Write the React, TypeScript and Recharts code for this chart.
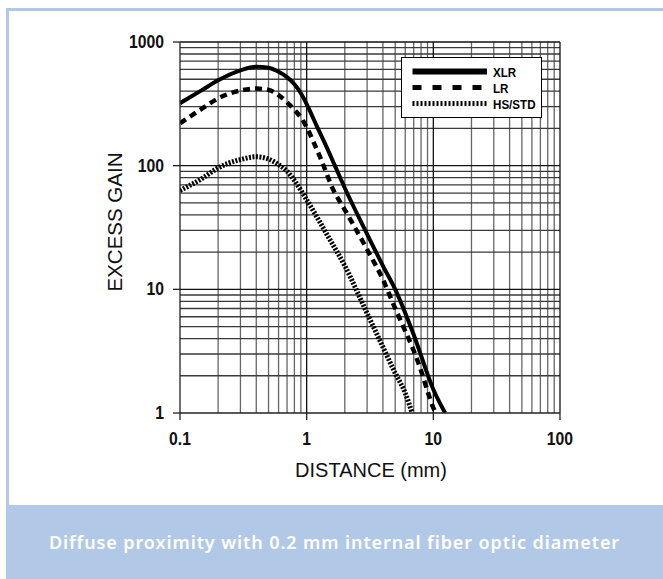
import React from 'react';
import { LineChart, Line, XAxis, YAxis, ReferenceLine, Legend, Label } from 'recharts';

const xTicks = [0.1, 1, 10, 100];
const yTicks = [1, 10, 100, 1000];
const xMinorGrid = [0.2, 0.3, 0.4, 0.5, 0.6, 0.7, 0.8, 0.9, 2, 3, 4, 5, 6, 7, 8, 9, 20, 30, 40, 50, 60, 70, 80, 90];
const xMajorGrid = [1, 10, 100];
const yMinorGrid = [2, 3, 4, 5, 6, 7, 8, 9, 20, 30, 40, 50, 60, 70, 80, 90, 200, 300, 400, 500, 600, 700, 800, 900];
const yMajorGrid = [10, 100, 1000];

const xlrDistance = [0.1, 0.15, 0.2, 0.3, 0.4, 0.5, 0.6, 0.7, 0.8, 0.9, 1, 1.2, 1.4, 1.67, 2, 3, 4, 5, 7, 10, 12.4];
const xlrGain = [320, 410, 490, 590, 630, 620, 575, 520, 455, 385, 315, 210, 150, 100, 66, 28, 15.5, 10, 4.3, 1.55, 1];

const lrDistance = [0.1, 0.15, 0.2, 0.3, 0.4, 0.5, 0.6, 0.7, 0.8, 0.9, 1, 1.15, 1.3, 1.62, 2, 3, 4, 5, 6, 7, 8, 9, 10, 10.5];
const lrGain = [220, 290, 350, 405, 420, 410, 372, 325, 283, 245, 205, 150, 112, 64, 44, 21, 12, 7, 4.6, 3.2, 2.2, 1.5, 1.1, 1];

const hsDistance = [0.1, 0.15, 0.2, 0.3, 0.4, 0.5, 0.6, 0.7, 0.8, 1, 1.5, 2, 3, 3.79, 5, 6, 6.8];
const hsGain = [63, 79, 96, 112, 118, 113, 102, 90, 76, 53, 26, 15.5, 6.4, 3.84, 2.1, 1.45, 1];

const seriesNames = ['XLR', 'LR', 'HS/STD'];

const toData = (xs: number[], ys: number[]) => xs.map((x, i) => ({ x, y: ys[i] }));
const xlrData = toData(xlrDistance, xlrGain);
const lrData = toData(lrDistance, lrGain);
const hsData = toData(hsDistance, hsGain);

const SANS = '"Liberation Sans", Arial, sans-serif';
const BLUE = '#b1c9e6';

const YTick = (props: any) => {
  const { x, y, payload } = props;
  return (
    <text transform={`translate(${x - 7} ${y + 6}) scale(0.9 1)`} textAnchor="end" fontFamily={SANS} fontWeight="bold" fontSize={17.5} fill="#111">
      {payload.value}
    </text>
  );
};

const XTick = (props: any) => {
  const { x, y, payload } = props;
  return (
    <text transform={`translate(${x} ${y + 23}) scale(0.9 1)`} textAnchor="middle" fontFamily={SANS} fontWeight="bold" fontSize={17.5} fill="#111">
      {payload.value}
    </text>
  );
};

const LegendBox = () => {
  const rows = [
    { name: seriesNames[0], dash: undefined as string | undefined, w: 6 },
    { name: seriesNames[1], dash: '9 11', w: 5 },
    { name: seriesNames[2], dash: '2 2', w: 5 },
  ];
  return (
    <div style={{ width: 141, height: 61, border: '1.5px solid #000', background: '#fff', boxSizing: 'border-box' }}>
      <svg width={138} height={58} style={{ display: 'block' }}>
        {rows.map((r, i) => (
          <g key={r.name}>
            <line x1={10.5} x2={85} y1={13.5 + i * 16} y2={13.5 + i * 16} stroke="#000" strokeWidth={r.w} strokeDasharray={r.dash} />
            <text transform={`translate(91 ${13.5 + i * 16 + 5}) scale(0.86 1)`} fontFamily={SANS} fontWeight="bold" fontSize={13.5} fill="#000">
              {r.name}
            </text>
          </g>
        ))}
      </svg>
    </div>
  );
};

export default function App() {
  return (
    <div style={{ position: 'absolute', left: 0, top: 0, width: 663, height: 579, overflow: 'hidden', background: '#fff' }}>
      <div
        style={{
          position: 'absolute',
          left: 6,
          top: 8,
          width: 657,
          height: 571,
          borderLeft: `3px solid ${BLUE}`,
          borderTop: `3px solid ${BLUE}`,
          boxSizing: 'border-box',
          background: '#fff',
        }}
      />
      <div
        style={{
          position: 'absolute',
          left: 6,
          top: 505,
          width: 657,
          height: 74,
          background: BLUE,
          color: '#fff',
          fontFamily: '"Noto Sans", sans-serif',
          fontWeight: 600,
          fontSize: 18,
          letterSpacing: '0.9px',
          lineHeight: '74px',
          textAlign: 'center',
          whiteSpace: 'nowrap',
        }}
      >
        Diffuse proximity with 0.2 mm internal fiber optic diameter
      </div>
      <div style={{ position: 'absolute', left: 0, top: 0 }}>
        <LineChart width={663} height={579} margin={{ top: 42, right: 103, bottom: 96, left: 110 }}>
          <XAxis
            dataKey="x"
            type="number"
            scale="log"
            domain={[0.1, 100]}
            ticks={xTicks}
            allowDataOverflow
            height={70}
            tickSize={7}
            tick={<XTick />}
            stroke="#222"
            strokeWidth={1.3}
            interval={0}
          >
            <Label
              content={() => (
                <text x={371} y={477} textAnchor="middle" fontFamily={SANS} fontSize={20} fill="#111">
                  DISTANCE (mm)
                </text>
              )}
            />
          </XAxis>
          <YAxis
            dataKey="y"
            type="number"
            scale="log"
            domain={[1, 1000]}
            ticks={yTicks}
            allowDataOverflow
            width={70}
            tickSize={7}
            tick={<YTick />}
            stroke="#222"
            strokeWidth={1.3}
            interval={0}
          >
            <Label
              content={() => (
                <text x={122} y={222} textAnchor="middle" transform="rotate(-90 122 222)" fontFamily={SANS} fontSize={20.5} fill="#111">
                  EXCESS GAIN
                </text>
              )}
            />
          </YAxis>
          {xMinorGrid.map((v) => (
            <ReferenceLine key={'xm' + v} x={v} stroke="#666" strokeWidth={1.3} />
          ))}
          {yMinorGrid.map((v) => (
            <ReferenceLine key={'ym' + v} y={v} stroke="#3a3a3a" strokeWidth={1.3} />
          ))}
          {xMajorGrid.map((v) => (
            <ReferenceLine key={'xM' + v} x={v} stroke="#111" strokeWidth={1.3} />
          ))}
          {yMajorGrid.map((v) => (
            <ReferenceLine key={'yM' + v} y={v} stroke="#111" strokeWidth={1.3} />
          ))}
          <Line data={hsData} dataKey="y" name={seriesNames[2]} type="monotone" stroke="#000" strokeWidth={5} strokeDasharray="2 1.5" dot={false} isAnimationActive={false} />
          <Line data={lrData} dataKey="y" name={seriesNames[1]} type="monotone" stroke="#000" strokeWidth={4.5} strokeDasharray="7 5" dot={false} isAnimationActive={false} />
          <Line data={xlrData} dataKey="y" name={seriesNames[0]} type="monotone" stroke="#000" strokeWidth={4} dot={false} isAnimationActive={false} />
          <Legend
            layout="vertical"
            align="center"
            verticalAlign="middle"
            content={<LegendBox />}
            wrapperStyle={{ left: 401, top: 57, width: 141, height: 61 }}
          />
        </LineChart>
      </div>
    </div>
  );
}
